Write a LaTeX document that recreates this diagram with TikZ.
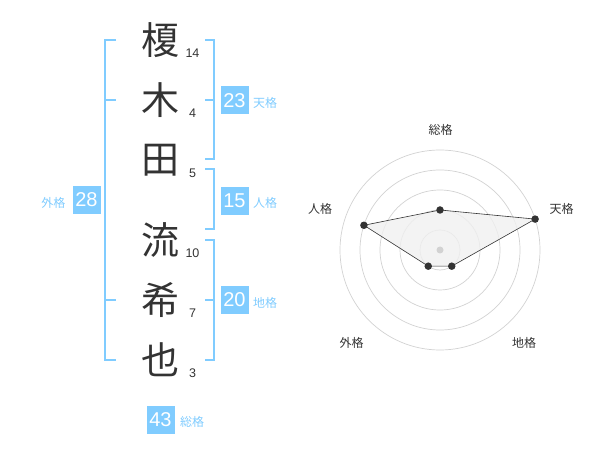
\documentclass[tikz,border=0pt]{standalone}
\usepackage{fontspec}
\setmainfont{Liberation Sans}
\newfontfamily\jp{Noto Sans CJK JP}
\definecolor{kblue}{RGB}{128,204,255}
\definecolor{kdark}{RGB}{51,51,51}
\definecolor{kring}{RGB}{210,210,210}
\definecolor{kfill}{RGB}{240,240,240}
\begin{document}
\begin{tikzpicture}[x=1pt,y=-1pt,
  bracket/.style={draw=kblue,line width=2pt},
  kanji/.style={font=\jp\fontsize{38}{38}\selectfont,text=kdark,inner sep=0pt},
  strokes/.style={font=\fontsize{12.5}{13}\selectfont,text=kdark,inner sep=0pt},
  numbox/.style={fill=kblue,text=white,minimum width=28pt,minimum height=28pt,inner sep=0pt,font=\fontsize{20}{20}\selectfont},
  kaku/.style={font=\jp\fontsize{12}{12}\selectfont,text=kblue,inner sep=0pt},
  rlabel/.style={font=\jp\fontsize{12}{12}\selectfont,text=kdark,inner sep=0pt},
  ring/.style={draw=kring,line width=0.7pt},
  dot/.style={circle,fill=kdark,inner sep=0pt,minimum size=7.5pt}]
\useasboundingbox (0,0) rectangle (600,470);
% characters
\node[kanji] (c1) at (160,40) {榎};
\node[kanji] (c2) at (160,100) {木};
\node[kanji] (c3) at (160,160) {田};
\node[kanji] (c4) at (160,240) {流};
\node[kanji] (c5) at (160,300) {希};
\node[kanji] (c6) at (160,360) {也};
% stroke counts
\node[strokes] (s1) at (192.5,53) {14};
\node[strokes] (s2) at (192.5,113) {4};
\node[strokes] (s3) at (192.5,173) {5};
\node[strokes] (s4) at (192.5,253) {10};
\node[strokes] (s5) at (192.5,313) {7};
\node[strokes] (s6) at (192.5,373) {3};
% outer bracket (gaikaku)
\draw[bracket] (116,40) -- (104.7,40) -- (104.7,360) -- (116,360);
\draw[bracket] (104.7,100) -- (116,100);
\draw[bracket] (104.7,300) -- (116,300);
\node[numbox] (b28) at (86.5,200) {28};
\node[kaku] (l28) at (53.5,203) {外格};
% tenkaku
\draw[bracket] (205,40) -- (214.3,40) -- (214.3,159.5) -- (205,159.5);
\draw[bracket] (214.3,100) -- (205,100);
\node[numbox] (b23) at (234.5,100.5) {23};
\node[kaku] (l23) at (265,103) {天格};
% jinkaku
\draw[bracket] (205,169.5) -- (214.3,169.5) -- (214.3,229.5) -- (205,229.5);
\node[numbox] (b15) at (234.5,201) {15};
\node[kaku] (l15) at (265,203) {人格};
% chikaku
\draw[bracket] (205,240) -- (214.3,240) -- (214.3,360) -- (205,360);
\draw[bracket] (214.3,300) -- (205,300);
\node[numbox] (b20) at (234.5,300) {20};
\node[kaku] (l20) at (265,303) {地格};
% soukaku
\node[numbox] (b43) at (160.5,420) {43};
\node[kaku] (l43) at (192,422) {総格};
% radar
\begin{scope}[shift={(440,250)},yscale=-1]
  \foreach \r in {20,40,60,80,100} \draw[ring] (0,0) circle (\r);
  \coordinate (pS) at (90:40);
  \coordinate (pT) at (18:100);
  \coordinate (pC) at (-54:20);
  \coordinate (pG) at (-126:20);
  \coordinate (pJ) at (162:80);
  \filldraw[fill=kfill,fill opacity=0.8,draw=kdark,line width=0.6pt] (pS) -- (pT) -- (pC) -- (pG) -- (pJ) -- cycle;
  \node[circle,fill=kring,inner sep=0pt,minimum size=7pt] (ctr) at (0,0) {};
  \foreach \p in {pS,pT,pC,pG,pJ} \node[dot] at (\p) {};
\end{scope}
\node[rlabel] (rS) at (440.7,130) {総格};
\node[rlabel] (rT) at (561.7,208.5) {天格};
\node[rlabel] (rJ) at (320,208.5) {人格};
\node[rlabel] (rG) at (351.7,342.5) {外格};
\node[rlabel] (rC) at (524,342.5) {地格};
\end{tikzpicture}
\end{document}
